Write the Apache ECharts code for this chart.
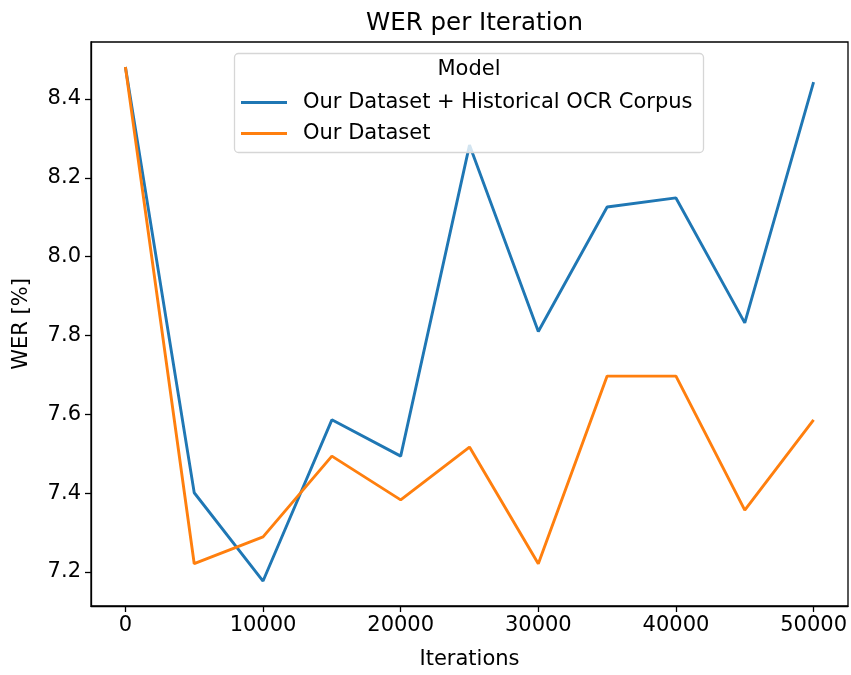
<!DOCTYPE html>
<html>
<head>
<meta charset="utf-8">
<script src="https://cdn.jsdelivr.net/npm/echarts@6/dist/echarts.min.js"></script>
<style>html,body{margin:0;padding:0;background:#fff}#c{width:851px;height:675px}</style>
</head>
<body>
<div id="c"></div>
<script>
const iterations = [0, 5000, 10000, 15000, 20000, 25000, 30000, 35000, 40000, 45000, 50000];
const werCombined = [8.481, 7.401, 7.177, 7.586, 7.494, 8.283, 7.810, 8.126, 8.149, 7.832, 8.443];
const werOurs = [8.481, 7.221, 7.289, 7.494, 7.383, 7.517, 7.221, 7.697, 7.697, 7.357, 7.586];
const xTicks = [0, 10000, 20000, 30000, 40000, 50000];
const yTicks = [7.2, 7.4, 7.6, 7.8, 8.0, 8.2, 8.4];
const seriesNames = ['Our Dataset + Historical OCR Corpus', 'Our Dataset'];

const font = 'DejaVu Sans';
const fs = 21;
const chart = echarts.init(document.getElementById('c'), null, {renderer: 'canvas'});
const pairs = ys => iterations.map((x, i) => [x, ys[i]]);

chart.setOption({
  animation: false,
  backgroundColor: '#fff',
  textStyle: {fontFamily: font},
  title: {
    text: 'WER per Iteration', left: 469.5, top: 6, textAlign: 'center',
    textStyle: {fontFamily: font, fontSize: 24.5, fontWeight: 'normal', color: '#000'}
  },
  grid: {left: 91, right: 3, top: 42, bottom: 69, show: true, borderColor: '#000', borderWidth: 1.3},
  xAxis: {
    type: 'value', min: -2500, max: 52500,
    name: 'Iterations', nameLocation: 'middle', nameGap: 43,
    nameTextStyle: {fontFamily: font, fontSize: fs, color: '#000'},
    axisLine: {show: true, onZero: false, lineStyle: {color: '#000', width: 1.3}},
    axisTick: {show: true, customValues: xTicks, length: 6, lineStyle: {color: '#000', width: 1.3}},
    axisLabel: {customValues: xTicks, fontFamily: font, fontSize: fs, color: '#000', margin: 9,
      formatter: v => String(v)},
    splitLine: {show: false}
  },
  yAxis: {
    type: 'value', min: 7.1137, max: 8.5446,
    name: 'WER [%]', nameLocation: 'middle', nameGap: 59, nameRotate: 90,
    nameTextStyle: {fontFamily: font, fontSize: fs, color: '#000'},
    axisLine: {show: true, onZero: false, lineStyle: {color: '#000', width: 1.3}},
    axisTick: {show: true, customValues: yTicks, length: 6, lineStyle: {color: '#000', width: 1.3}},
    axisLabel: {customValues: yTicks, fontFamily: font, fontSize: fs, color: '#000', margin: 10,
      formatter: v => v.toFixed(1)},
    splitLine: {show: false}
  },
  graphic: [
    {type: 'rect', z: 50, shape: {x: 234.5, y: 53.5, width: 469, height: 99, r: 4},
     style: {fill: 'rgba(255,255,255,0.8)', stroke: '#d6d6d6', lineWidth: 1.3}},
    {type: 'text', z: 51, x: 469, y: 70,
     style: {text: 'Model', font: fs + 'px "DejaVu Sans"', fill: '#000', textAlign: 'center', textVerticalAlign: 'middle'}}
  ],
  legend: {
    z: 60, orient: 'vertical', left: 241, top: 92, itemWidth: 46, itemHeight: 3, itemGap: 10,
    padding: 0, icon: 'rect',
    data: seriesNames,
    textStyle: {fontFamily: font, fontSize: fs, color: '#000', padding: [0, 0, 0, 11]}
  },
  series: [
    {name: seriesNames[0], type: 'line', data: pairs(werCombined), symbol: 'none',
     lineStyle: {color: '#1f77b4', width: 2.9}, itemStyle: {color: '#1f77b4'}},
    {name: seriesNames[1], type: 'line', data: pairs(werOurs), symbol: 'none',
     lineStyle: {color: '#ff7f0e', width: 2.9}, itemStyle: {color: '#ff7f0e'}}
  ]
});
</script>
</body>
</html>
